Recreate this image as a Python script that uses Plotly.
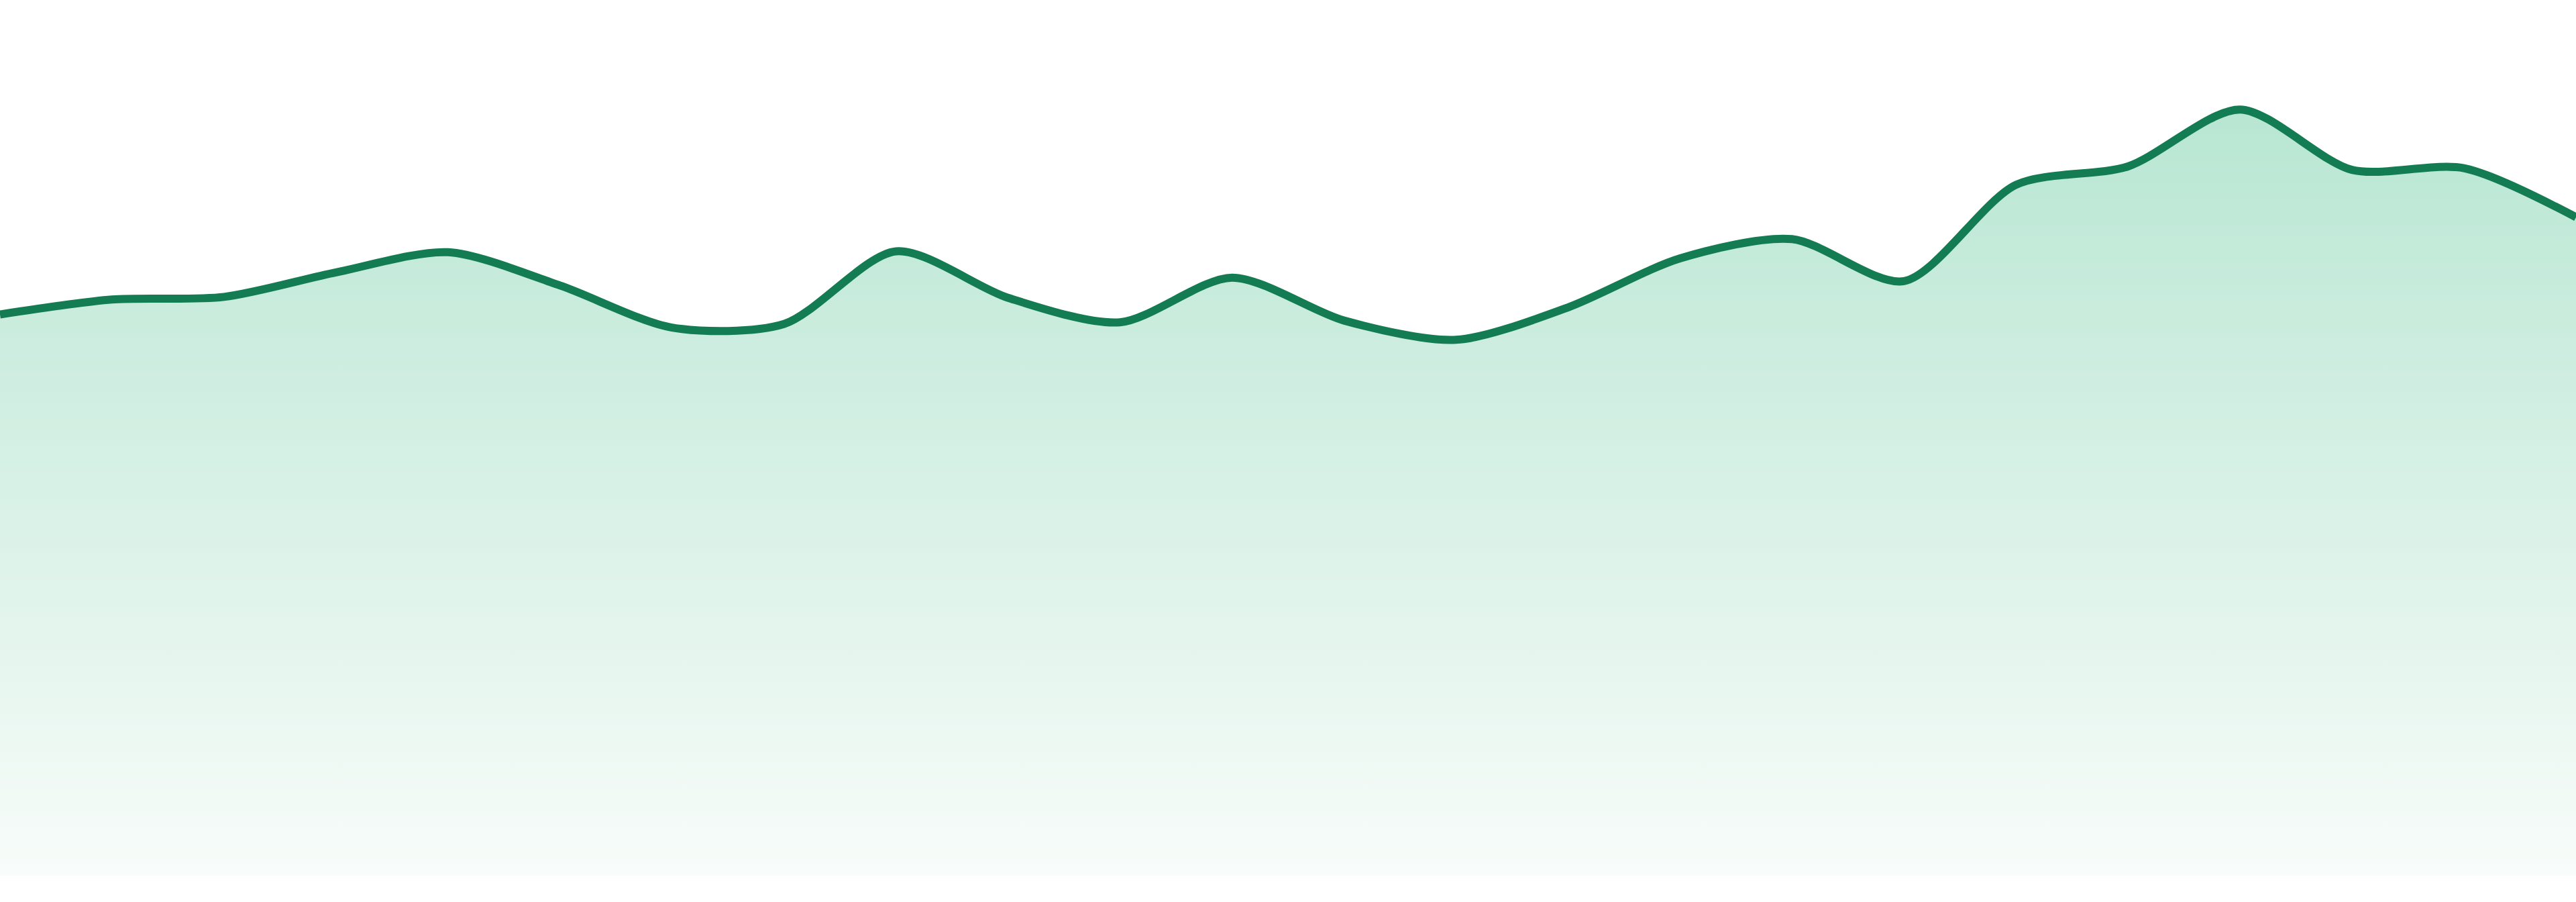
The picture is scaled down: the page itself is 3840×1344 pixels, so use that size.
import plotly.graph_objects as go

# one reading per period
periods = list(range(24))
values = [64.1, 65.8, 66.1, 68.9, 71.2, 67.4, 62.6, 63.0, 71.3, 66.0, 63.2, 68.3,
          63.4, 61.2, 64.9, 70.5, 72.7, 67.9, 78.9, 81.0, 87.5, 80.6, 80.8, 75.2]

LINE_COLOR = '#147c52'

fig = go.Figure()
fig.add_trace(go.Scatter(
    x=periods, y=values, mode='lines',
    line=dict(color=LINE_COLOR, width=12, shape='spline', smoothing=0.8),
    fill='tozeroy',
    fillgradient=dict(type='vertical',
                      colorscale=[[0.0, '#f8fcfa'], [0.5, '#d8f1e6'], [1.0, '#b8e6d3']]),
    hoverinfo='skip', showlegend=False,
))

fig.update_xaxes(visible=False, range=[0, 23])
fig.update_yaxes(visible=False, range=[0, 100])
fig.update_layout(
    width=3840, height=1344,
    margin=dict(l=0, r=0, t=0, b=39),
    paper_bgcolor='white', plot_bgcolor='white',
)

# page body has a default 8px margin; drop it so the chart runs edge to edge
fig.write_html("out.html", config={'displayModeBar': False},
               post_script="document.body.style.margin='0';")
